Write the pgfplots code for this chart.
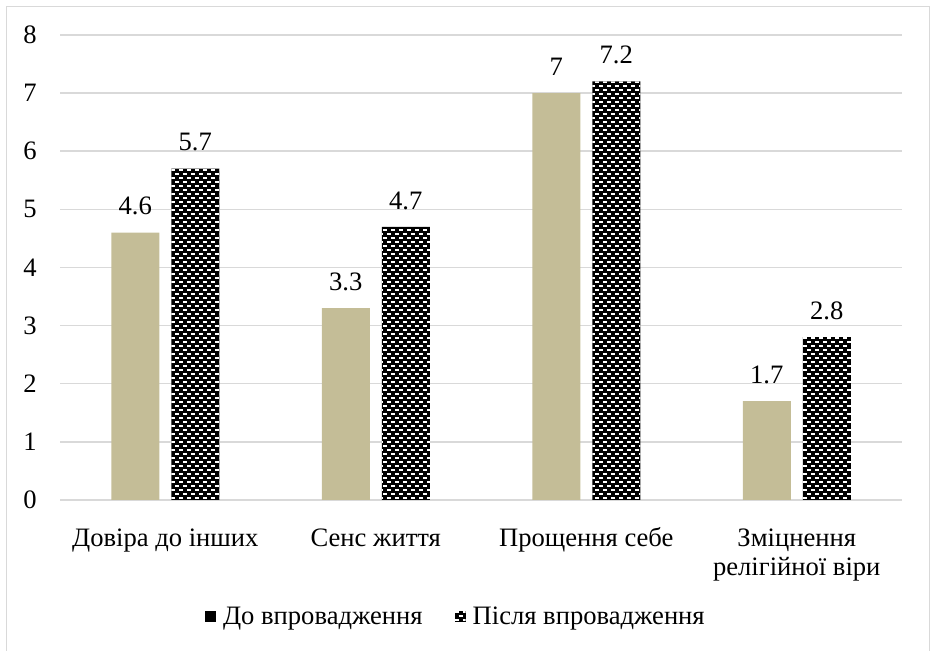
\documentclass[border=0pt]{standalone}
\usepackage{fontspec}
\newfontfamily\lserif{Liberation Serif}
\usepackage{pgfplots}
\pgfplotsset{compat=1.18}
\definecolor{beige}{HTML}{C4BD97}
\definecolor{gridgrey}{HTML}{D9D9D9}
\newcommand\brickcode{%
  \pgfpointanchor{path picture bounding box}{south west}\pgfgetlastxy{\ppxa}{\ppya}%
  \pgfpointanchor{path picture bounding box}{north east}\pgfgetlastxy{\ppxb}{\ppyb}%
  \pgfsetstrokecolor{white}\pgfsetlinewidth{0.75pt}%
  \pgfsetdash{{2pt}{2pt}}{0pt}%
  \foreach \i in {0,...,55}{%
    \pgfpathmoveto{\pgfpoint{\ppxa}{\ppya+\i*4pt+1pt}}%
    \pgfpathlineto{\pgfpoint{\ppxb}{\ppya+\i*4pt+1pt}}}%
  \pgfusepath{stroke}%
  \pgfsetdash{{2pt}{2pt}}{2pt}%
  \foreach \i in {0,...,55}{%
    \pgfpathmoveto{\pgfpoint{\ppxa}{\ppya+\i*4pt+3pt}}%
    \pgfpathlineto{\pgfpoint{\ppxb}{\ppya+\i*4pt+3pt}}}%
  \pgfusepath{stroke}}
\newcommand\chartfont{\lserif\fontsize{13.3}{14.5}\selectfont}
\begin{document}
\begin{tikzpicture}
\useasboundingbox (0,0) rectangle (465.5pt,325.5pt);
\draw[gridgrey, line width=0.5pt] (3.3pt,-1pt) -- (3.3pt,322.3pt) -- (464.5pt,322.3pt) -- (464.5pt,-1pt);
\begin{axis}[
  at={(30pt,75.5pt)}, anchor=south west,
  scale only axis, width=421pt, height=232.5pt,
  xmin=-0.5, xmax=3.5, ymin=0, ymax=8,
  ytick={0,1,...,8},
  xtick={0,1,2,3},
  xticklabels={{Довіра до інших},{Сенс життя},{Прощення себе},{\begin{tabular}[t]{@{}c@{}}Зміцнення\\релігійної віри\end{tabular}}},
  xticklabel style={anchor=base, yshift=-19pt, inner sep=0pt, font=\chartfont},
  yticklabel style={anchor=east, inner sep=0pt, xshift=-11.5pt, font=\chartfont},
  /pgf/number format/assume math mode=true,
  ybar=6pt, bar width=24pt,
  axis line style={draw=none},
  tick style={draw=none},
  ymajorgrids, grid style={gridgrey, line width=0.75pt},
  nodes near coords,
  every node near coord/.append style={font=\chartfont, inner sep=0pt, yshift=8.5pt, black},
  legend columns=2,
  legend style={at={(0.469,-0.2516)}, anchor=center, draw=none, fill=none,
    font=\chartfont, nodes={inner sep=0pt, anchor=west},
    column sep=3.5pt,
    /tikz/every even column/.append style={column sep=16pt}},
]
\addplot[draw=none, fill=beige,
  legend image code/.code={\fill[black] (0pt,-2.5pt) rectangle (5.5pt,3pt);}]
  coordinates {(0,4.6) (1,3.3) (2,7) (3,1.7)};
\addlegendentry{До впровадження}
\addplot[draw=none, fill=black, path picture={\brickcode},
  legend image code/.code={\fill[black, path picture={\brickcode}] (0pt,-2.5pt) rectangle (5.5pt,3pt);}]
  coordinates {(0,5.7) (1,4.7) (2,7.2) (3,2.8)};
\addlegendentry{Після впровадження}
\end{axis}
\end{tikzpicture}
\end{document}
